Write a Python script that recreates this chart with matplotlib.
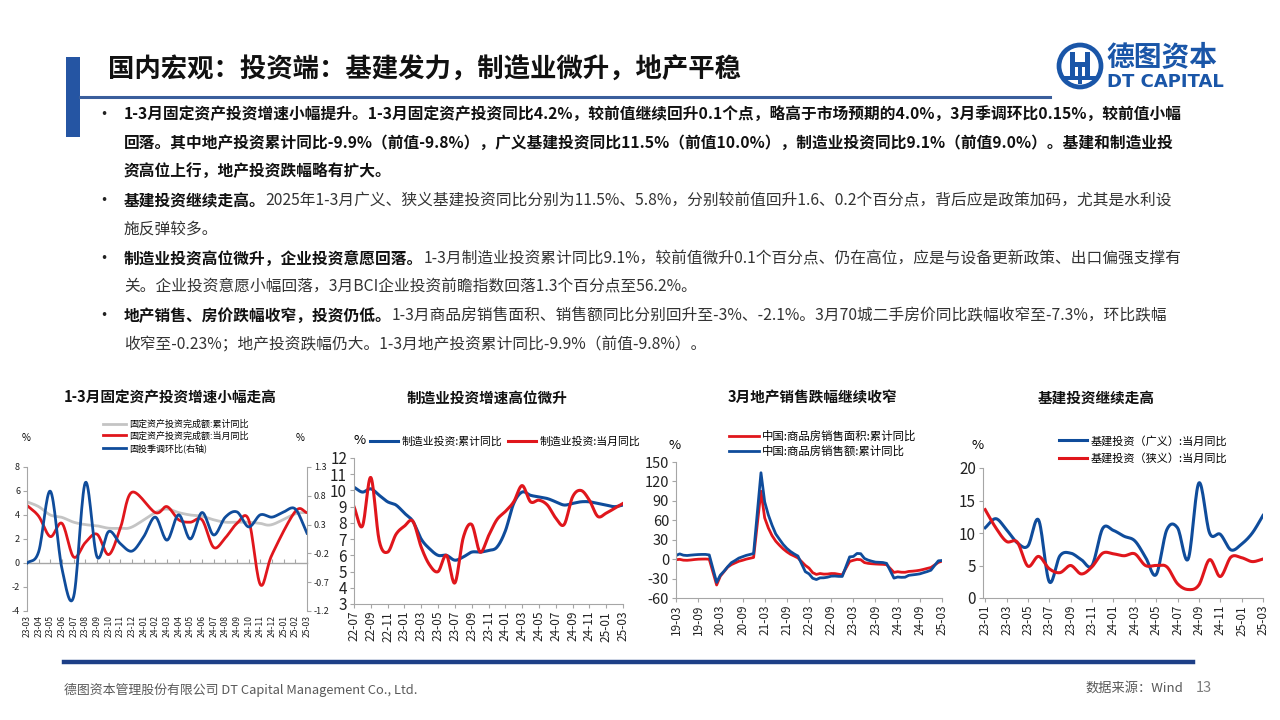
import numpy as np
import matplotlib
matplotlib.use("Agg")
import matplotlib.pyplot as plt
from matplotlib.patches import Rectangle, Ellipse
from matplotlib.lines import Line2D
import pandas as pd

plt.rcParams['font.family'] = ['Noto Sans CJK SC', 'DejaVu Sans']
plt.rcParams['axes.unicode_minus'] = False

RED = '#E0161C'
BLUE = '#0F4C9B'
GRAY = '#C4C4C4'
AXC = '#A6A6A6'

# ---------------- data ----------------
# chart 1: 23-03 .. 25-03
fai_months = [p.strftime('%y-%m') for p in pd.period_range('2023-03', '2025-03', freq='M')]
fai_cum = [5.1, 4.7, 4.0, 3.8, 3.4, 3.2, 3.1, 2.9, 2.9, 3.0, None, 4.2, 4.5, 4.2, 4.0, 3.9,
           3.6, 3.4, 3.4, 3.4, 3.3, 3.2, None, 4.1, 4.2]
fai_month = [4.8, 3.9, 2.2, 3.3, 0.5, 1.7, 2.4, 0.7, 2.9, 5.9, None, 4.2, 4.7, 3.6, 3.4, 3.6,
             1.3, 2.1, 3.3, 3.6, -1.8, 0.7, None, 4.3, 4.2]
fai_sa_mom = [-0.37, -0.17, 0.88, -0.47, -0.95, 1.03, -0.26, 0.18, -0.03, -0.16, 0.09, 0.43,
              0.03, 0.47, 0.05, 0.51, 0.12, 0.43, 0.52, 0.26, 0.47, 0.43, 0.52, 0.57, 0.15]

# chart 2: 22-07 .. 25-03
mfg_months = [p.strftime('%y-%m') for p in pd.period_range('2022-07', '2025-03', freq='M')]
mfg_cum = [10.2, 9.9, 10.1, 9.7, 9.3, 9.1, 8.6, 8.1, 7.0, 6.4, 6.0, 6.0, 5.7, 5.9, 6.2, 6.2,
           6.3, 6.5, 7.5, 9.2, 9.9, 9.7, 9.6, 9.5, 9.3, 9.1, 9.2, 9.3, 9.3, 9.2, 9.1, 9.0, 9.1]
mfg_month = [9.0, 7.8, 10.8, 6.9, 6.2, 7.3, 7.8, 8.1, 6.5, 5.4, 5.0, 6.0, 4.3, 7.1, 7.9, 6.2,
             7.2, 8.2, 8.7, 9.3, 10.3, 9.3, 9.4, 9.1, 8.3, 7.9, 9.6, 10.0, 9.4, 8.4, 8.6, 8.9, 9.2]

# chart 3: 19-03 .. 25-03
re_months = [p.strftime('%y-%m') for p in pd.period_range('2019-03', '2025-03', freq='M')]
re_area = [-0.9, -0.3, -1.6, -1.8, -1.3, -0.6, -0.1, 0.1, 0.2, -0.1,
           None, -39.9, -26.3, -19.3, -12.3, -8.4, -5.8, -3.3, -1.8, 0.0, 1.3, 2.6,
           None, 104.9, 63.8, 48.1, 36.3, 27.7, 21.5, 15.9, 11.3, 7.5, 4.8, 1.9,
           None, -9.6, -13.8, -20.9, -23.6, -22.2, -23.1, -23.0, -22.2, -22.3, -23.3, -24.3,
           None, -3.6, -1.8, -0.4, -0.9, -5.3, -6.5, -7.1, -7.5, -7.8, -8.0, -8.5,
           None, -20.5, -19.4, -20.2, -20.3, -19.0, -18.6, -18.0, -17.1, -15.8, -14.3, -12.9,
           None, -5.1, -3.0]
re_amount = [5.6, 8.1, 6.1, 5.6, 6.2, 6.7, 7.1, 7.3, 7.3, 6.5,
             None, -35.9, -24.7, -18.6, -11.6, -5.4, -2.1, 1.6, 3.7, 5.8, 7.2, 8.7,
             None, 133.4, 88.5, 68.2, 52.4, 38.9, 30.7, 22.8, 16.6, 11.8, 8.0, 4.8,
             None, -19.3, -22.7, -29.5, -31.5, -28.9, -28.8, -27.9, -26.3, -26.1, -26.6, -26.7,
             None, 3.5, 4.1, 8.8, 8.4, 1.1, -1.5, -3.2, -4.6, -4.9, -5.2, -6.5,
             None, -29.3, -27.6, -28.1, -27.9, -25.0, -24.3, -23.6, -22.7, -20.9, -19.2, -17.1,
             None, -2.6, -2.1]

# chart 4: 23-01 .. 25-03
infra_months = [p.strftime('%y-%m') for p in pd.period_range('2023-01', '2025-03', freq='M')]
infra_broad = [10.8, 12.2, 10.5, 8.5, 8.0, 12.0, 2.5, 6.5, 6.9, 5.9, 5.0, 10.7, 10.4, 9.5,
               8.8, 6.3, 3.6, 10.5, 10.8, 6.0, 17.7, 10.0, 9.8, 7.4, 8.3, 10.0, 12.7]
infra_narrow = [13.6, 10.8, 8.7, 8.6, 4.9, 6.4, 4.5, 3.9, 5.0, 3.7, 4.8, 6.9, 6.8, 6.5, 6.8,
                5.0, 5.0, 4.8, 2.2, 1.3, 2.0, 5.9, 3.3, 6.3, 6.2, 5.6, 6.0]

W, H = 1280, 720
fig = plt.figure(figsize=(12.8, 7.2), dpi=100)


def box(l, t, r, b):
    return [l / W, 1 - b / H, (r - l) / W, (b - t) / H]


def fx(x):
    return x / W


def fy(y):
    return 1 - y / H


def clean(vals):
    x = np.array([i for i, v in enumerate(vals) if v is not None], dtype=float)
    y = np.array([v for v in vals if v is not None], dtype=float)
    return x, y


def smooth(vals, n=16):
    # Catmull-Rom curve through the data points (drawing only)
    x, y = clean(vals)
    px = np.concatenate([[2 * x[0] - x[1]], x, [2 * x[-1] - x[-2]]])
    py = np.concatenate([[2 * y[0] - y[1]], y, [2 * y[-1] - y[-2]]])
    xs, ys = [], []
    t = np.linspace(0, 1, n, endpoint=False)
    for i in range(1, len(px) - 2):
        for arr, out in ((px, xs), (py, ys)):
            p0, p1, p2, p3 = arr[i - 1], arr[i], arr[i + 1], arr[i + 2]
            out.extend(0.5 * (2 * p1 + (-p0 + p2) * t + (2 * p0 - 5 * p1 + 4 * p2 - p3) * t ** 2
                              + (-p0 + 3 * p1 - 3 * p2 + p3) * t ** 3))
    xs.append(x[-1])
    ys.append(y[-1])
    return np.array(xs), np.array(ys)


def style_axes(ax, ysize=10):
    for s in ['top', 'right']:
        ax.spines[s].set_visible(False)
    for s in ['left', 'bottom']:
        ax.spines[s].set_color(AXC)
        ax.spines[s].set_linewidth(0.8)
    ax.tick_params(axis='y', labelsize=ysize, length=3, color=AXC, pad=2, labelcolor='#222222')
    ax.tick_params(axis='x', labelsize=8.5, length=3, color=AXC, pad=2, labelcolor='#222222',
                   labelrotation=90)


def prect(l, t, r, b, color):
    fig.add_artist(Rectangle((fx(l), fy(b)), (r - l) / W, (b - t) / H,
                             transform=fig.transFigure, color=color, lw=0))


# ---------------- header ----------------
prect(66, 57, 80, 137, '#2555A3')
fig.text(fx(108), fy(70), '国内宏观：投资端：基建发力，制造业微升，地产平稳',
         fontsize=19, weight='bold', va='center', ha='left', color='#111111')
fig.add_artist(Line2D([fx(80), fx(1050)], [fy(97), fy(97)], transform=fig.transFigure,
                      color='#3A5E9C', lw=2.2))

# logo
LOGO = '#1A56A8'
fig.add_artist(Ellipse((fx(1080), fy(66)), 42 / W, 42 / H, transform=fig.transFigure,
                       fill=False, ec=LOGO, lw=3.4))
for l, t, r, b in [(1070, 52, 1075, 78), (1085, 52, 1090, 78), (1070, 62, 1090, 67),
                   (1078, 67, 1082, 84), (1064, 76, 1096, 80)]:
    prect(l, t, r, b, LOGO)
fig.text(fx(1106), fy(58), '德图资本', fontsize=20, weight='bold', color=LOGO,
         va='center', ha='left')
fig.text(fx(1107), fy(82), 'DT CAPITAL', fontsize=13, weight='bold', color=LOGO,
         va='center', ha='left', family=['DejaVu Sans'])

# ---------------- bullet text ----------------
renderer = fig.canvas.get_renderer()
FS = 11.3
lines = [
    (115, True, '1-3月固定资产投资增速小幅提升。1-3月固定资产投资同比4.2%，较前值继续回升0.1个点，略高于市场预期的4.0%，3月季调环比0.15%，较前值小幅', ''),
    (143, False, '回落。其中地产投资累计同比-9.9%（前值-9.8%），广义基建投资同比11.5%（前值10.0%），制造业投资同比9.1%（前值9.0%）。基建和制造业投', ''),
    (172, False, '资高位上行，地产投资跌幅略有扩大。', ''),
    (201, True, '基建投资继续走高。', '2025年1-3月广义、狭义基建投资同比分别为11.5%、5.8%，分别较前值回升1.6、0.2个百分点，背后应是政策加码，尤其是水利设'),
    (229, False, '', '施反弹较多。'),
    (259, True, '制造业投资高位微升，企业投资意愿回落。', '1-3月制造业投资累计同比9.1%，较前值微升0.1个百分点、仍在高位，应是与设备更新政策、出口偏强支撑有'),
    (287, False, '', '关。企业投资意愿小幅回落，3月BCI企业投资前瞻指数回落1.3个百分点至56.2%。'),
    (316, True, '地产销售、房价跌幅收窄，投资仍低。', '1-3月商品房销售面积、销售额同比分别回升至-3%、-2.1%。3月70城二手房价同比跌幅收窄至-7.3%，环比跌幅'),
    (345, False, '', '收窄至-0.23%；地产投资跌幅仍大。1-3月地产投资累计同比-9.9%（前值-9.8%）。'),
]
for y, bullet, bold, normal in lines:
    if bullet:
        fig.text(fx(95), fy(y), '•', fontsize=FS + 1, va='center', ha='left', color='#222222')
    x0 = fx(124)
    if bold:
        t = fig.text(x0, fy(y), bold, fontsize=FS, weight='bold', va='center', ha='left',
                     color='#111111')
        x0 = t.get_window_extent(renderer=renderer).x1 / W
    if normal:
        fig.text(x0, fy(y), normal, fontsize=FS, va='center', ha='left', color='#333333')

# ---------------- chart titles ----------------
for cx, title in [(170, '1-3月固定资产投资增速小幅走高'), (487, '制造业投资增速高位微升'),
                  (812, '3月地产销售跌幅继续收窄'), (1096, '基建投资继续走高')]:
    fig.text(fx(cx), fy(398), title, fontsize=10.5, weight='bold', ha='center', va='center',
             color='#111111')

LEG = dict(frameon=False, handlelength=2.6, handletextpad=0.3, borderaxespad=0, borderpad=0)

# ---------------- chart 1 ----------------
ax1 = fig.add_axes(box(27, 467, 307, 611))
ax1r = ax1.twinx()
ax1.set_xlim(0, len(fai_months) - 1)
ax1.set_ylim(-4, 8)
ax1.set_yticks([-4, -2, 0, 2, 4, 6, 8])
ax1r.set_ylim(-1.2, 1.3)
ax1r.set_yticks([-1.2, -0.7, -0.2, 0.3, 0.8, 1.3])
style_axes(ax1, ysize=6.5)
ax1.spines['bottom'].set_visible(False)
ax1.set_xticks(range(len(fai_months)))
ax1.set_xticklabels(fai_months)
ax1.tick_params(axis='x', labelsize=6.2, length=0, pad=3)
for s in ['top', 'left', 'bottom']:
    ax1r.spines[s].set_visible(False)
ax1r.spines['right'].set_color(AXC)
ax1r.tick_params(axis='y', labelsize=6.5, length=3, color=AXC, pad=2, labelcolor='#222222')
zero_frac = (0 - ax1.get_ylim()[0]) / (ax1.get_ylim()[1] - ax1.get_ylim()[0])
sec = ax1.secondary_xaxis(zero_frac)
sec.set_xticks(range(len(fai_months)))
sec.set_xticklabels([])
sec.tick_params(axis='x', length=3, color=AXC, direction='in')
sec.spines['bottom'].set_color(AXC)
sec.spines['bottom'].set_linewidth(1.0)

h1, = ax1.plot(*smooth(fai_cum), color=GRAY, lw=2, label='固定资产投资完成额:累计同比')
h2, = ax1.plot(*smooth(fai_month), color=RED, lw=2, label='固定资产投资完成额:当月同比')
h3, = ax1r.plot(*smooth(fai_sa_mom), color=BLUE, lw=2, label='固投季调环比(右轴)')
ax1r.legend(handles=[h1, h2, h3], loc='upper left', bbox_to_anchor=(0.27, 1.33), fontsize=6.5,
            labelspacing=0.3, **LEG)
ax1.text(-0.02, 1.2, '%', transform=ax1.transAxes, fontsize=7, ha='left', va='center')
ax1.text(0.99, 1.2, '%', transform=ax1.transAxes, fontsize=7, ha='right', va='center')

# ---------------- chart 2 ----------------
ax2 = fig.add_axes(box(354, 458, 623, 604))
ax2.set_xlim(0, len(mfg_months) - 1)
ax2.set_ylim(3, 12)
ax2.set_yticks(range(3, 13))
style_axes(ax2, ysize=11)
ax2.set_xticks(range(0, len(mfg_months), 2))
ax2.set_xticklabels(mfg_months[::2])
b2, = ax2.plot(*smooth(mfg_cum), color=BLUE, lw=2.2, label='制造业投资:累计同比')
r2, = ax2.plot(*smooth(mfg_month), color=RED, lw=2.2, label='制造业投资:当月同比')
ax2.legend(handles=[b2, r2], loc='upper left', bbox_to_anchor=(0.06, 1.15), ncol=2,
           columnspacing=0.5, fontsize=7.8, **LEG)
ax2.text(0.0, 1.12, '%', transform=ax2.transAxes, fontsize=9.5, ha='left', va='center')

# ---------------- chart 3 ----------------
ax3 = fig.add_axes(box(676, 462, 942, 598))
ax3.set_xlim(0, len(re_months) - 1)
ax3.set_ylim(-60, 150)
ax3.set_yticks(range(-60, 151, 30))
style_axes(ax3, ysize=10.5)
ax3.set_xticks(range(0, len(re_months), 6))
ax3.set_xticklabels(re_months[::6])
r3, = ax3.plot(*clean(re_area), color=RED, lw=2, label='中国:商品房销售面积:累计同比')
b3, = ax3.plot(*clean(re_amount), color=BLUE, lw=2, label='中国:商品房销售额:累计同比')
ax3.legend(handles=[r3, b3], loc='upper left', bbox_to_anchor=(0.2, 1.23), fontsize=8.2,
           labelspacing=0.3, **LEG)
ax3.text(-0.03, 1.12, '%', transform=ax3.transAxes, fontsize=9.5, ha='left', va='center')

# ---------------- chart 4 ----------------
ax4 = fig.add_axes(box(983, 468, 1263, 598))
ax4.set_xlim(-0.2, len(infra_months) - 1)
ax4.set_ylim(0, 20)
ax4.set_yticks(range(0, 21, 5))
style_axes(ax4, ysize=11)
ax4.set_xticks(range(0, len(infra_months), 2))
ax4.set_xticklabels(infra_months[::2])
b4, = ax4.plot(*smooth(infra_broad), color=BLUE, lw=2.2, label='基建投资（广义）:当月同比')
r4, = ax4.plot(*smooth(infra_narrow), color=RED, lw=2.2, label='基建投资（狭义）:当月同比')
ax4.legend(handles=[b4, r4], loc='upper left', bbox_to_anchor=(0.27, 1.25), fontsize=8,
           labelspacing=0.6, **LEG)
ax4.text(-0.04, 1.17, '%', transform=ax4.transAxes, fontsize=9.5, ha='left', va='center')

# ---------------- footer ----------------
fig.add_artist(Line2D([fx(64), fx(1193)], [fy(662), fy(662)], transform=fig.transFigure,
                      color='#1D3F87', lw=3.2))
fig.text(fx(64), fy(690), '德图资本管理股份有限公司 DT Capital Management Co., Ltd.', fontsize=9.3,
         color='#595959', va='center', ha='left')
fig.text(fx(1085), fy(688), '数据来源：Wind', fontsize=9.5, color='#595959', va='center', ha='left')
fig.text(fx(1196), fy(688), '13', fontsize=10.5, color='#7F7F7F', va='center', ha='left')

fig.savefig('out.png', dpi=100)
